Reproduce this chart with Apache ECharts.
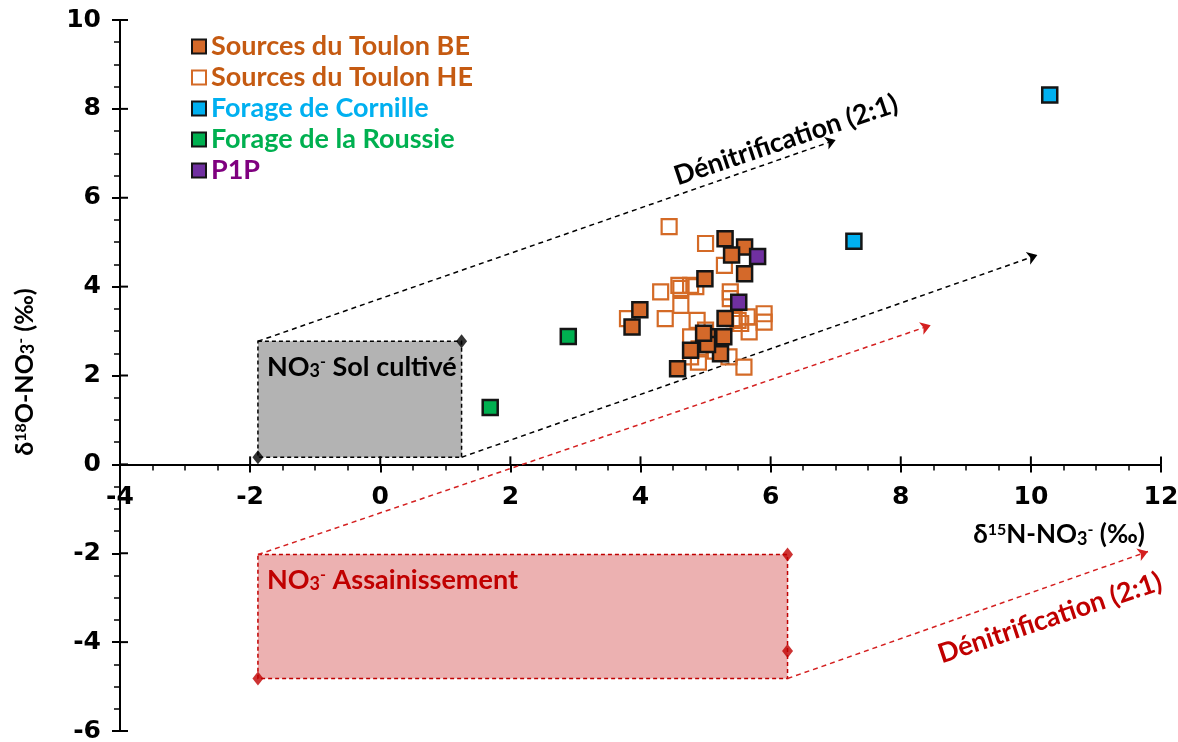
<!DOCTYPE html>
<html>
<head>
<meta charset="utf-8">
<script src="https://cdn.jsdelivr.net/npm/echarts@6/dist/echarts.min.js"></script>
<style>html,body{margin:0;padding:0;background:#fff}#c{width:1178px;height:742px}</style>
</head>
<body>
<div id="c"></div>
<script>
// ---- data ----
const xTicks = { min: -4, max: 12, interval: 2 };
const yTicks = { min: -6, max: 10, interval: 2 };
const xTickLabels = ['-4', '-2', '0', '2', '4', '6', '8', '10', '12'];

const seriesNames = ['Sources du Toulon BE', 'Sources du Toulon HE', 'Forage de Cornille', 'Forage de la Roussie', 'P1P'];

const toulonBE = [[5.30,5.08],[5.60,4.89],[5.40,4.71],[5.60,4.29],[4.99,4.18],[3.99,3.48],[3.87,3.09],[5.30,3.28],[5.28,2.87],[5.03,2.87],[4.77,2.57],[5.23,2.49],[4.57,2.15],[5.03,2.70],[4.97,2.95]];
const toulonHE = [[4.44,5.35],[5.00,4.97],[5.29,4.48],[4.59,4.03],[4.31,3.88],[4.77,4.03],[4.62,3.96],[4.85,4.00],[5.38,3.88],[5.38,3.73],[3.80,3.28],[4.38,3.28],[4.62,3.58],[5.90,3.39],[5.90,3.20],[5.64,3.32],[5.54,3.17],[5.67,2.98],[4.87,3.24],[5.00,3.02],[4.77,2.87],[4.77,2.42],[4.89,2.30],[5.36,2.42],[5.59,2.19],[5.44,3.28],[5.50,3.24],[4.90,2.60],[5.15,2.55]];
const cornille = [[10.29,8.31],[7.28,5.02]];
const roussie = [[2.89,2.88],[1.69,1.28]];
const p1p = [[5.80,4.68],[5.51,3.65]];

// end-member boxes [x1, y1, x2, y2]
const boxSol = [[-1.88, 0.16, 1.25, 2.77]];
const boxAssain = [[-1.88, -2.03, 6.26, -4.82]];
const diamondsSol = [[-1.88, 0.16], [1.25, 2.77]];
const diamondsAssain = [[6.26, -2.03], [6.26, -4.20], [-1.88, -4.82]];

// denitrification arrows
const arrowsSol = [[[-1.88, 2.77], [7.0, 7.3]], [[1.25, 0.16], [10.1, 4.71]]];
const arrowsAssain = [[[-1.88, -2.03], [8.46, 3.13]], [[6.26, -4.82], [11.8, -1.96]]];

// ---- styling ----
const FONT = 'Lato';
const ORANGE = '#D4692A';
const ORANGE_T = '#C55A11';
const RED = '#C00000';

function range(t) { const a = []; for (let v = t.min; v <= t.max + 1e-9; v += t.interval) a.push(v); return a; }

function boxSeries(data, fill, stroke) {
  return {
    type: 'custom', data: data, z: 1, silent: true,
    encode: { x: [0, 2], y: [1, 3] },
    renderItem: function (params, api) {
      const p1 = api.coord([api.value(0), api.value(1)]);
      const p2 = api.coord([api.value(2), api.value(3)]);
      return {
        type: 'rect',
        shape: { x: Math.min(p1[0], p2[0]), y: Math.min(p1[1], p2[1]), width: Math.abs(p2[0] - p1[0]), height: Math.abs(p2[1] - p1[1]) },
        style: { fill: fill, stroke: stroke, lineWidth: 1.5, lineDash: [4, 3] }
      };
    }
  };
}
function arrowSeries(data, color) {
  return {
    type: 'lines', coordinateSystem: 'cartesian2d', z: 2, silent: true,
    data: data.map(c => ({ coords: c })),
    symbol: ['none', 'arrow'], symbolSize: 10,
    lineStyle: { color: color, width: 1.5, type: [5, 4], opacity: 1 }
  };
}
// inner half of the crossing major ticks
function innerTicks(vals, isX) {
  return {
    type: 'custom', silent: true, z: 3,
    data: vals.map(v => isX ? [v, 0] : [xTicks.min, v]),
    renderItem: function (params, api) {
      const p = api.coord([api.value(0), api.value(1)]);
      return { type: 'line', shape: isX ? { x1: p[0], y1: p[1], x2: p[0], y2: p[1] - 8 } : { x1: p[0], y1: p[1], x2: p[0] + 8, y2: p[1] },
        style: { stroke: '#000', lineWidth: 2 } };
    }
  };
}
// x tick labels placed under the zero-line axis
const xLabelSeries = {
  type: 'custom', silent: true, z: 3,
  data: range(xTicks).map((v, i) => [v, 0, i]),
  renderItem: function (params, api) {
    const p = api.coord([api.value(0), api.value(1)]);
    return { type: 'text', x: p[0], y: p[1] + 33,
      style: { text: xTickLabels[api.value(2)], font: 'bold 25px "DejaVu Sans"', fill: '#000', textAlign: 'center', textVerticalAlign: 'middle' } };
  }
};
const tickLbl = { fontFamily: 'DejaVu Sans', fontWeight: 'bold', fontSize: 25, color: '#000' };
const richDefs = (c) => ({
  sup: { fontSize: 16, fontWeight: 'bold', fontFamily: FONT, verticalAlign: 'top', fill: c },
  sub: { fontSize: 18, fontWeight: 'bold', fontFamily: FONT, verticalAlign: 'bottom', fill: c }
});

const option = {
  animation: false,
  backgroundColor: '#fff',
  grid: { left: 120, right: 17, top: 20, bottom: 11, containLabel: false, outerBoundsMode: 'none' },
  xAxis: { type: 'value', min: xTicks.min, max: xTicks.max, interval: xTicks.interval,
      axisLine: { onZero: true, lineStyle: { color: '#000', width: 2 } },
      axisTick: { length: 8, lineStyle: { color: '#000', width: 2 } },
      minorTick: { show: true, splitNumber: 4, length: 6, lineStyle: { color: '#000', width: 1.5 } },
      splitLine: { show: false },
      axisLabel: { show: false } },
  yAxis: { type: 'value', min: yTicks.min, max: yTicks.max, interval: yTicks.interval,
      axisLine: { onZero: false, lineStyle: { color: '#000', width: 2 } },
      axisTick: { length: 8, lineStyle: { color: '#000', width: 2 } },
      minorTick: { show: true, splitNumber: 4, length: 6, lineStyle: { color: '#000', width: 1.5 } },
      splitLine: { show: false },
      axisLabel: Object.assign({ margin: 19 }, tickLbl) },
  legend: {
    orient: 'vertical', left: 186, top: 28, itemWidth: 14, itemHeight: 14, itemGap: 4, itemTextGap: 17,
    icon: 'rect',
    textStyle: { fontFamily: FONT, fontWeight: 'bold', fontSize: 27 },
    data: [
      { name: seriesNames[0], textStyle: { color: ORANGE_T } },
      { name: seriesNames[1], textStyle: { color: ORANGE_T } },
      { name: seriesNames[2], textStyle: { color: '#00B0F0' } },
      { name: seriesNames[3], textStyle: { color: '#00B050' } },
      { name: seriesNames[4], textStyle: { color: '#7F007F' } }
    ]
  },
  series: [
    boxSeries(boxSol, '#B3B3B3', '#000'),
    boxSeries(boxAssain, '#ECB1B1', RED),
    arrowSeries(arrowsSol, '#000'),
    arrowSeries(arrowsAssain, '#D42020'),
    innerTicks(range(xTicks), true),
    innerTicks(range(yTicks), false),
    xLabelSeries,
    { type: 'scatter', symbol: 'diamond', symbolSize: [11, 14], data: diamondsSol, z: 3, silent: true, itemStyle: { color: '#000' } },
    { type: 'scatter', symbol: 'diamond', symbolSize: [11, 14], data: diamondsAssain, z: 3, silent: true, itemStyle: { color: RED } },
    { name: seriesNames[1], type: 'scatter', symbol: 'rect', symbolSize: 15, data: toulonHE, z: 4,
      itemStyle: { color: 'rgba(255,255,255,0)', borderColor: '#D46A26', borderWidth: 2.2, opacity: 1 } },
    { name: seriesNames[0], type: 'scatter', symbol: 'rect', symbolSize: 15, data: toulonBE, z: 5,
      itemStyle: { color: ORANGE, borderColor: '#151515', borderWidth: 2.5, opacity: 1 } },
    { name: seriesNames[2], type: 'scatter', symbol: 'rect', symbolSize: 15, data: cornille, z: 5,
      itemStyle: { color: '#00B0F0', borderColor: '#151515', borderWidth: 2.5, opacity: 1 } },
    { name: seriesNames[3], type: 'scatter', symbol: 'rect', symbolSize: 15, data: roussie, z: 5,
      itemStyle: { color: '#00B050', borderColor: '#151515', borderWidth: 2.5, opacity: 1 } },
    { name: seriesNames[4], type: 'scatter', symbol: 'rect', symbolSize: 15, data: p1p, z: 6,
      itemStyle: { color: '#7030A0', borderColor: '#151515', borderWidth: 2.5, opacity: 1 } }
  ],
  graphic: [
    { type: 'text', x: 1059, y: 535, z: 10,
      style: { text: 'δ{sup|15}N-NO{sub|3}{sup|-} (‰)', fill: '#000', font: 'bold 26px ' + FONT, textAlign: 'center', textVerticalAlign: 'middle', rich: richDefs('#000') } },
    { type: 'text', x: 25, y: 372, rotation: Math.PI / 2, z: 10,
      style: { text: 'δ{sup|18}O-NO{sub|3}{sup|-} (‰)', fill: '#000', font: 'bold 25px ' + FONT, textAlign: 'center', textVerticalAlign: 'middle', rich: richDefs('#000') } },
    { type: 'text', x: 267, y: 367, z: 10,
      style: { text: 'NO{sub|3}{sup|-} Sol cultivé', fill: '#000', font: 'bold 27px ' + FONT, textAlign: 'left', textVerticalAlign: 'middle', rich: richDefs('#000') } },
    { type: 'text', x: 267, y: 580, z: 10,
      style: { text: 'NO{sub|3}{sup|-} Assainissement', fill: RED, font: 'bold 27px ' + FONT, textAlign: 'left', textVerticalAlign: 'middle', rich: richDefs(RED) } },
    { type: 'text', x: 786, y: 140, rotation: 18.5 * Math.PI / 180, z: 10,
      style: { text: 'Dénitrification (2:1)', fill: '#000', font: 'bold 27px ' + FONT, textAlign: 'center', textVerticalAlign: 'middle' } },
    { type: 'text', x: 1050, y: 618, rotation: 18.5 * Math.PI / 180, z: 10,
      style: { text: 'Dénitrification (2:1)', fill: RED, font: 'bold 27px ' + FONT, textAlign: 'center', textVerticalAlign: 'middle' } }
  ]
};
const chart = echarts.init(document.getElementById('c'));
chart.setOption(option);
</script>
</body>
</html>
